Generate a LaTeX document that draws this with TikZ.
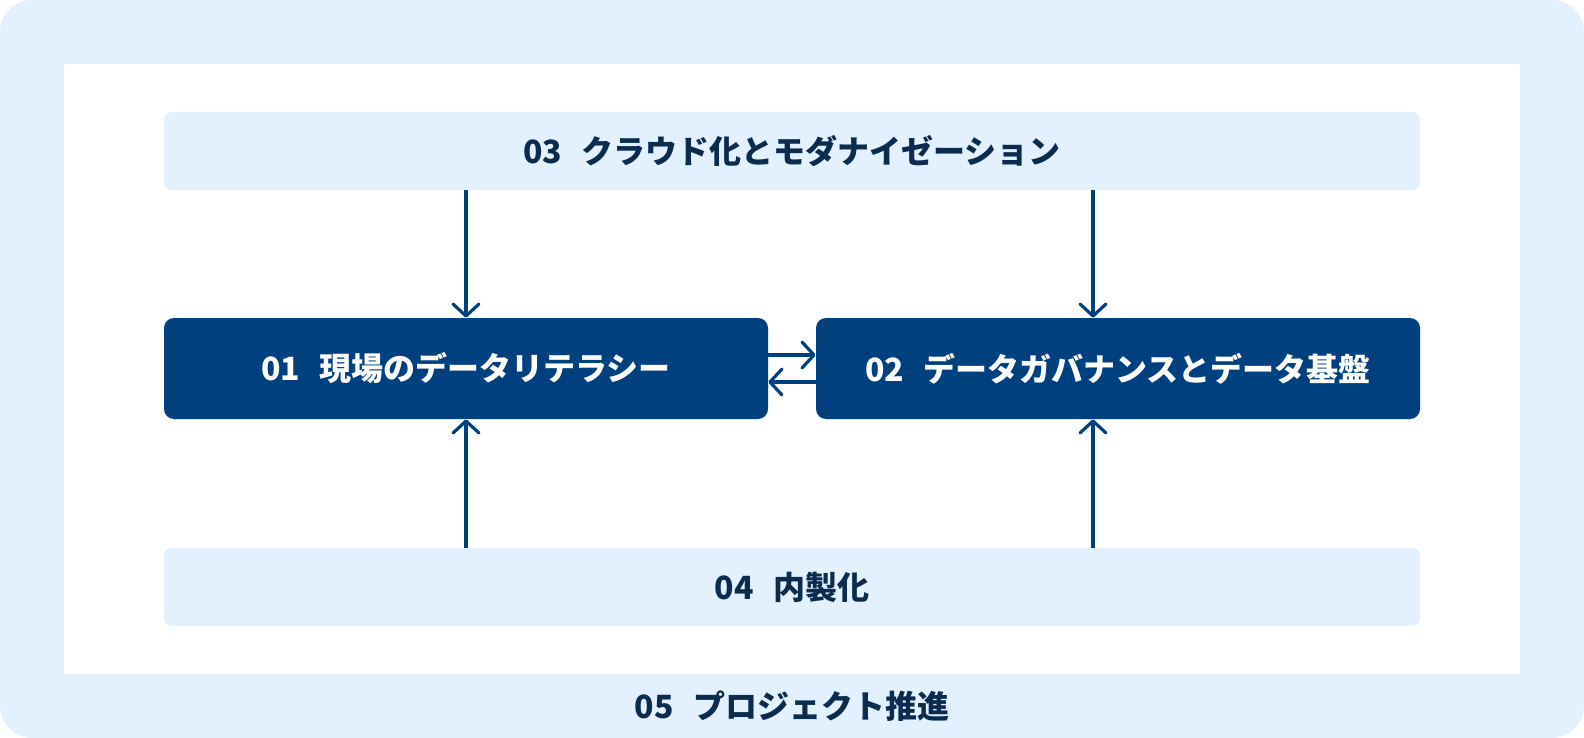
\documentclass[tikz,border=0pt]{standalone}
\usepackage{fontspec}
\setmainfont{Noto Sans CJK JP}
\usetikzlibrary{arrows.meta}

\definecolor{paleblue}{HTML}{E3F0FE}
\definecolor{deepblue}{HTML}{01407F}
\definecolor{inkblue}{HTML}{0B2B4F}

\newcommand{\numgap}{\hspace{0.6em}}

\begin{document}
\begin{tikzpicture}[
    x=0.5pt, y=-0.5pt,
    % Box styles
    band/.style={fill=paleblue, rounded corners=4pt, inner sep=0pt, minimum width=628pt, minimum height=39pt, font=\bfseries\fontsize{16}{19}\selectfont, text=inkblue},
    core/.style={fill=deepblue, rounded corners=5pt, inner sep=0pt, minimum width=302pt, minimum height=50.5pt, font=\bfseries\fontsize{16}{19}\selectfont, text=white},
    % Arrow styles
    flow/.style={draw=deepblue, line width=1.6pt, -{Straight Barb[length=6pt, width=13pt, round]}},
]

% === FRAME ===
\fill[paleblue, rounded corners=16pt] (0,0) rectangle (1584,738);
\fill[white] (64,64) rectangle (1520,674);

% === BANDS ===
\node[band] (cloud) at (792,151) {03\numgap クラウド化とモダナイゼーション};
\node[band] (inhouse) at (792,587) {04\numgap 内製化};

% === CORE BOXES ===
\node[core] (literacy) at (466,368.5) {01\numgap 現場のデータリテラシー};
\node[core] (governance) at (1118,368.5) {02\numgap データガバナンスとデータ基盤};

% === PROJECT LABEL ===
\node[font=\bfseries\fontsize{16}{19}\selectfont, text=inkblue] (project) at (792,706) {05\numgap プロジェクト推進};

% Vertical connectors
\draw[flow] (cloud.south -| literacy.north) -- (literacy.north);
\draw[flow] ([xshift=-12.5pt]cloud.south -| governance.north) -- ([xshift=-12.5pt]governance.north);
\draw[flow] (inhouse.north -| literacy.south) -- (literacy.south);
\draw[flow] ([xshift=-12.5pt]inhouse.north -| governance.south) -- ([xshift=-12.5pt]governance.south);

% Horizontal connectors
\draw[flow] ([yshift=6.75pt]literacy.east) -- ([yshift=6.75pt]governance.west);
\draw[flow] ([yshift=-6.75pt]governance.west) -- ([yshift=-6.75pt]literacy.east);

\end{tikzpicture}
\end{document}
